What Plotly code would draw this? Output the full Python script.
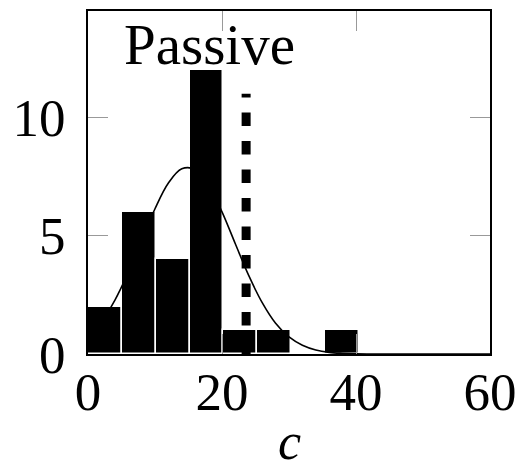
import plotly.graph_objects as go

# Histogram data (bins of width ~5.05 starting at 0)
bin_width = 5.05
bin_left = [0.0, 5.05, 10.1, 15.15, 20.2, 25.25, 30.3, 35.35]
counts = [2, 6, 4, 12, 1, 1, 0, 1]

# Fitted curve, values
curve_x = [0, 2, 4, 6, 8, 10, 12, 14, 16, 18, 20, 22, 24, 26, 28, 30, 32, 34, 36, 38, 40, 45, 50, 55, 60]
curve_y = [0.77, 1.37, 2.27, 3.44, 4.79, 6.14, 7.23, 7.83, 7.80, 7.14, 6.01, 4.65, 3.31, 2.17, 1.30,
           0.72, 0.37, 0.17, 0.07, 0.03, 0.01, 0.0, 0.0, 0.0, 0.0]

# Vertical dashed marker
marker_x = 23.6
marker_top = 11

x_ticks = [0, 20, 40, 60]
y_ticks = [0, 5, 10]

FONT = "Liberation Serif"

centers = [l + bin_width / 2 for l in bin_left]

fig = go.Figure()
fig.add_trace(go.Bar(
    x=centers, y=counts, width=bin_width,
    marker=dict(color="black", line=dict(color="white", width=1.5)),
    showlegend=False,
))
fig.add_trace(go.Scatter(
    x=curve_x, y=curve_y, mode="lines",
    line=dict(color="black", width=1.6, shape="spline"),
    showlegend=False,
))
fig.add_trace(go.Scatter(
    x=[marker_x, marker_x], y=[0, marker_top], mode="lines",
    line=dict(color="black", width=9, dash="13.5px,15px"),
    showlegend=False,
))

fig.add_annotation(
    x=5.0, y=13.1, xref="x", yref="y", text="Passive", showarrow=False,
    xanchor="left", yanchor="middle", font=dict(family=FONT, size=57, color="black"),
)
# x-axis title
fig.add_annotation(
    x=0.5, y=-0.342, xref="paper", yref="paper", text="<i>c</i>", showarrow=False,
    xanchor="center", yanchor="bottom", borderpad=0,
    font=dict(family=FONT, size=52, color="black"),
)

axis_common = dict(
    showgrid=False, zeroline=False, automargin=False,
    showline=True, linecolor="black", linewidth=2,
    ticks="inside", ticklen=20, tickcolor="#999999", tickwidth=1,
    mirror="allticks",
    tickfont=dict(family=FONT, size=53, color="black"),
)

fig.update_layout(
    width=524, height=472,
    margin=dict(l=88, r=34, t=11, b=118),
    paper_bgcolor="white", plot_bgcolor="white",
    bargap=0,
    xaxis=dict(range=[0, 60], tickvals=x_ticks, ticktext=[str(v) for v in x_ticks],
               ticklabelstandoff=-10, **axis_common),
    yaxis=dict(range=[0, 14.5], tickvals=y_ticks, ticktext=[str(v) for v in y_ticks],
               ticklabelstandoff=10, **axis_common),
)

fig.write_html("out.html")
